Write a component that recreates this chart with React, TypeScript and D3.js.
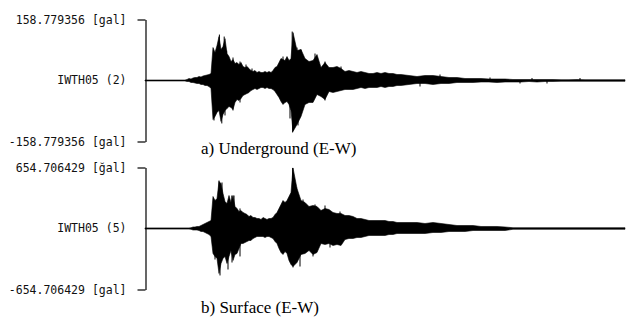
import React, { useEffect, useRef } from 'react';
import * as d3 from 'd3';

// time of each envelope sample [s]
const times = [
  0, 5, 10,
  10.5, 11, 11.5, 12, 12.5, 13, 13.5, 14, 14.5, 15, 15.5, 16, 16.5,
  17, 17.5, 18, 18.5, 19, 19.5, 20, 20.5, 21, 21.5, 22, 22.5, 23, 23.5, 24, 24.5, 25, 25.5, 26, 26.5,
  27, 27.5, 28, 28.5, 29, 29.5, 30, 30.5, 31, 31.5, 32, 32.5, 33, 33.5, 34, 34.5, 35, 35.5, 36, 36.5, 37,
  38, 39, 40, 41, 42, 43, 44, 45, 46, 47, 48, 49, 50, 51, 52, 53, 54, 55, 56, 57, 58, 59, 60, 61, 62, 63, 64,
  66, 68, 70, 72, 74, 76, 78, 80, 82, 84, 86, 88, 90, 92, 94, 96, 98, 100, 102, 104, 106, 108, 110, 112, 114, 116, 118, 120,
];

// underground (E-W) envelope [gal]
const ugUpper = [
  1.3, 1.3, 1.3,
  2.6, 5.2, 3.9, 6.5, 7.8, 7.8, 10.4, 9.1, 11.7, 13, 14.3, 15.6, 18.2,
  85.8, 72.8, 91, 114.4, 80.6, 88.4, 109, 70.2, 62.4, 49.4,
  54.6, 44.2, 46.8, 41.6, 46.8, 36.4, 33.8, 36.4, 31.2, 26,
  23.4, 26, 20.8, 23.4, 20.8, 20.8, 23.4, 20.8, 23.4, 20.8,
  26, 33.8, 36.4, 46.8, 57.2, 54.6, 52, 62.4, 52, 57.2,
  124.8,
  78, 80.6, 57.2, 49.4, 52, 67.6, 33.8, 46.8, 33.8, 33.8, 36.4, 31.2, 23.4, 26, 23.4, 20.8, 23.4, 20.8, 18.2, 18.2, 20.8, 18.2, 20.8, 18.2, 18.2, 15.6, 15.6,
  13, 10.4, 13, 13, 10.4, 7.8, 7.8, 5.2, 5.2, 5.2, 3.9, 3.9, 3.9, 2.6, 2.6, 2.6, 2.6, 2.6, 2.6, 2.1, 2.1, 2.6, 2.1, 2.1, 2.1, 2.1, 2.1, 2.1,
];
const ugLower = [
  1.3, 1.3, 1.3,
  2.6, 2.6, 5.2, 5.2, 6.5, 7.8, 7.8, 10.4, 10.4, 13, 13, 15.6, 20.8,
  101.4, 93.6, 83.2, 78, 106.6, 88.4, 78, 72.8, 67.6, 70.2,
  75.4, 57.2, 49.4, 52, 46.8, 39, 36.4, 33.8, 31.2, 26,
  23.4, 20.8, 23.4, 20.8, 18.2, 18.2, 20.8, 18.2, 20.8, 20.8,
  23.4, 28.6, 36.4, 44.2, 54.6, 62.4, 57.2, 54.6, 62.4, 78,
  132.6,
  114.4, 93.6, 62.4, 57.2, 57.2, 36.4, 41.6, 49.4, 28.6, 31.2, 28.6, 26, 23.4, 23.4, 23.4, 20.8, 18.2, 20.8, 18.2, 18.2, 18.2, 15.6, 18.2, 15.6, 15.6, 13, 13,
  10.4, 7.8, 7.8, 10.4, 7.8, 7.8, 5.2, 5.2, 5.2, 3.9, 3.9, 5.2, 3.9, 3.9, 3.9, 2.6, 3.9, 2.6, 2.6, 2.1, 2.1, 2.1, 2.1, 2.1, 2.1, 2.1, 2.1, 2.1,
];
// isolated peaks sticking out of the underground envelope [s], [gal]
const ugSpikeTimes = [18.6, 19.8, 20.4, 22, 23.75, 25.25, 26.75, 34.5, 36.8, 38, 39, 42.5, 45, 49, 73.75, 86.25, 96.75, 108.75,
  17.25, 19.2, 20, 22, 23.75, 36.25, 36.9, 38.25, 45, 68.75, 93.75, 100.5];
const ugSpikeValues = [119.6, 114.4, 78, 59.8, 49.4, 41.6, 31.2, 62.4, 127.4, 85.8, 80.6, 70.2, 49.4, 36.4, 15.6, 7.8, 6.5, 6.5,
  -104, -111.8, -91, -78, -57.2, -98.8, -135.2, -117, -52, -15.6, -7.8, -7.8];

// surface (E-W) envelope [gal]
const sfUpper = [
  6.4, 6.4, 6.4,
  6.4, 6.4, 8.6, 16.1, 16.1, 21.5, 21.5, 32.2, 42.9, 53.7, 64.4, 75.1, 85.8,
  343.4, 300.4, 321.9, 504.3, 482.9, 375.6, 289.7, 268.3, 354.1, 279,
  354.1, 236.1, 214.6, 182.4, 193.1, 171.7, 161, 150.2, 128.8, 139.5,
  118, 118, 107.3, 107.3, 96.6, 118, 107.3, 96.6, 107.3, 107.3,
  118, 150.2, 171.7, 214.6, 257.5, 300.4, 279, 300.4, 343.4, 386.3,
  650,
  429.2, 300.4, 279, 236.1, 246.8, 236.1, 193.1, 214.6, 203.9, 171.7, 161, 161, 139.5, 139.5, 128.8, 107.3, 107.3, 96.6, 85.8, 85.8, 85.8, 85.8, 85.8, 75.1, 75.1, 64.4, 64.4,
  64.4, 64.4, 53.7, 64.4, 53.7, 42.9, 32.2, 32.2, 32.2, 21.5, 21.5, 21.5, 16.1, 8.6, 8.6, 8.6, 8.6, 8.6, 8.6, 8.6, 8.6, 8.6, 8.6, 8.6, 8.6, 8.6, 8.6, 8.6,
];
const sfLower = [
  6.4, 6.4, 6.4,
  6.4, 6.4, 8.6, 16.1, 16.1, 16.1, 21.5, 32.2, 32.2, 42.9, 53.7, 64.4, 85.8,
  268.3, 300.4, 321.9, 482.9, 375.6, 321.9, 300.4, 375.6, 300.4, 236.1,
  343.4, 279, 268.3, 214.6, 161, 161, 150.2, 139.5, 128.8, 128.8,
  107.3, 96.6, 85.8, 85.8, 85.8, 85.8, 96.6, 85.8, 85.8, 96.6,
  107.3, 139.5, 161, 214.6, 257.5, 279, 246.8, 268.3, 343.4, 386.3,
  407.7,
  364.8, 279, 268.3, 236.1, 279, 257.5, 161, 171.7, 161, 182.4, 171.7, 182.4, 118, 107.3, 107.3, 96.6, 96.6, 85.8, 75.1, 75.1, 75.1, 75.1, 75.1, 64.4, 64.4, 53.7, 53.7,
  53.7, 53.7, 53.7, 42.9, 42.9, 32.2, 32.2, 32.2, 21.5, 21.5, 21.5, 21.5, 21.5, 8.6, 8.6, 8.6, 8.6, 8.6, 8.6, 8.6, 8.6, 8.6, 8.6, 8.6, 8.6, 8.6, 8.6, 8.6,
];
// isolated peaks sticking out of the surface envelope [s], [gal]
const sfSpikeTimes = [18.5, 19.25, 21.7, 22.25, 23.75, 36.9, 37.9, 39.5, 42.5, 45, 48.75,
  17.5, 18.75, 20.75, 21.75, 23.75, 37, 38.75, 42, 46.25];
const sfSpikeValues = [515, 494, 354, 354, 215, 650, 440, 311, 258, 247, 182,
  -333, -504, -440, -365, -300, -418, -408, -300, -204];

const fullScale = [158.779356, 654.706429];
const stationLabels = ['IWTH05 (2)', 'IWTH05 (5)'];
const topLabels = ['158.779356 [gal]', '654.706429 [ğal]'];
const bottomLabels = ['-158.779356 [gal]', '-654.706429 [gal]'];
const captions = ['a) Underground (E-W)', 'b) Surface (E-W)'];

const W = 626;
const H = 324;
const axisX = 145.5;
const panelRanges: [number, number][] = [[141.5, 19.5], [289.5, 167.5]];
const captionY = [154, 313];

const App: React.FC = () => {
  const svgRef = useRef<SVGSVGElement>(null);

  useEffect(() => {
    if (!svgRef.current) return;
    const svg = d3.select(svgRef.current);
    svg.selectAll('*').remove();

    const x = d3.scaleLinear().domain([0, 120]).range([145, 625]);
    const envelopes = [[ugUpper, ugLower], [sfUpper, sfLower]];
    const spikes = [[ugSpikeTimes, ugSpikeValues], [sfSpikeTimes, sfSpikeValues]];

    envelopes.forEach(([upper, lower], i) => {
      const max = fullScale[i];
      const y = d3.scaleLinear().domain([-max, max]).range(panelRanges[i]);

      // seismogram trace as filled envelope
      const area = d3.area<number>()
        .x((t) => x(t))
        .y0((_, k) => y(-lower[k]))
        .y1((_, k) => y(upper[k]));

      svg.append('path')
        .datum(times)
        .attr('d', area)
        .attr('fill', '#000')
        .attr('stroke', '#000')
        .attr('stroke-width', 0.6);

      const [st, sv] = spikes[i];
      svg.append('g')
        .selectAll('line')
        .data(st)
        .join('line')
        .attr('x1', (t) => x(t))
        .attr('x2', (t) => x(t))
        .attr('y1', y(0))
        .attr('y2', (_, k) => y(sv[k]))
        .attr('stroke', '#000')
        .attr('stroke-width', 1);

      // scale bar with full-scale labels
      const axis = d3.axisLeft(y)
        .tickValues([-max, max])
        .tickSizeInner(8)
        .tickSizeOuter(0)
        .tickPadding(11)
        .tickFormat((d) => (+d > 0 ? topLabels[i] : bottomLabels[i]));

      const g = svg.append('g')
        .attr('transform', `translate(${axisX},0)`)
        .call(axis);
      g.selectAll('path, line').attr('stroke', '#000').attr('stroke-width', 1.2);
      g.selectAll('text')
        .attr('fill', '#111')
        .style('font-family', '"DejaVu Sans Mono", monospace')
        .style('font-size', '11.5px');

      svg.append('text')
        .attr('x', axisX - 19)
        .attr('y', y(0))
        .attr('dy', '0.32em')
        .attr('text-anchor', 'end')
        .attr('fill', '#111')
        .style('font-family', '"DejaVu Sans Mono", monospace')
        .style('font-size', '11.5px')
        .text(stationLabels[i]);

      svg.append('text')
        .attr('x', 201)
        .attr('y', captionY[i])
        .attr('fill', '#000')
        .style('font-family', '"Liberation Serif", "Times New Roman", serif')
        .style('font-size', '17px')
        .text(captions[i]);
    });
  }, []);

  return (
    <svg
      ref={svgRef}
      width={W}
      height={H}
      style={{ position: 'fixed', top: 0, left: 0, background: '#fff' }}
    />
  );
};

export default App;
